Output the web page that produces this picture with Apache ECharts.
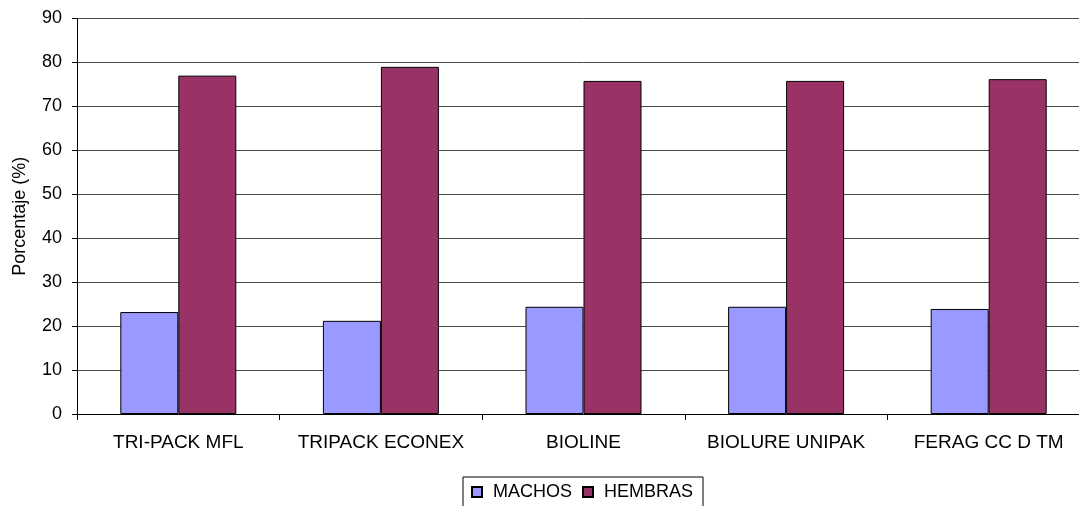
<!DOCTYPE html>
<html>
<head>
<meta charset="utf-8">
<script src="https://cdn.jsdelivr.net/npm/echarts@6/dist/echarts.min.js"></script>
<style>
html,body{margin:0;padding:0;background:#fff;overflow:hidden;width:1079px;height:506px;}
#chart{width:1092px;height:506px;}
</style>
</head>
<body>
<div id="chart"></div>
<script>
const categories = ['TRI-PACK MFL', 'TRIPACK ECONEX', 'BIOLINE', 'BIOLURE UNIPAK', 'FERAG CC D TM'];
const machos = [23.2, 21.2, 24.4, 24.4, 23.9];
const hembras = [77.0, 79.0, 75.8, 75.8, 76.2];
const seriesNames = ['MACHOS', 'HEMBRAS'];
const yAxisName = 'Porcentaje (%)';

const FONT = 'Liberation Sans, Arial, sans-serif';
const chart = echarts.init(document.getElementById('chart'), null, {renderer: 'canvas'});
chart.setOption({
  animation: false,
  backgroundColor: '#fff',
  grid: {left: 77, top: 18.5, width: 1013, height: 395.5},
  legend: {
    data: seriesNames,
    left: 463, top: 477,
    orient: 'horizontal',
    icon: 'rect',
    itemWidth: 10, itemHeight: 10,
    itemGap: 10,
    borderColor: '#000', borderWidth: 1,
    padding: [6, 10, 8, 8],
    textStyle: {fontFamily: FONT, fontSize: 18, color: '#000', padding: [0, 0, 0, 6]}
  },
  xAxis: {
    type: 'category',
    data: categories,
    axisLine: {lineStyle: {color: '#000', width: 1}},
    axisTick: {show: true, length: 6, lineStyle: {color: '#000'}},
    axisLabel: {fontFamily: FONT, fontSize: 19, color: '#000', margin: 19, interval: 0},
    splitLine: {show: false}
  },
  yAxis: {
    type: 'value',
    min: 0, max: 90, interval: 10,
    name: yAxisName,
    nameLocation: 'middle',
    nameGap: 48,
    nameTextStyle: {fontFamily: FONT, fontSize: 18, color: '#000'},
    axisLine: {show: true, lineStyle: {color: '#000', width: 1}},
    axisTick: {show: true, length: 5, lineStyle: {color: '#000'}},
    axisLabel: {fontFamily: FONT, fontSize: 18, color: '#000', margin: 15},
    splitLine: {show: true, lineStyle: {color: '#4a4a4a', width: 1}}
  },
  series: [
    {
      name: seriesNames[0], type: 'bar', data: machos,
      barWidth: 58, barGap: '0%',
      itemStyle: {color: '#9999FF', borderColor: '#000', borderWidth: 1}
    },
    {
      name: seriesNames[1], type: 'bar', data: hembras,
      barWidth: 58, barGap: '0%',
      itemStyle: {color: '#993366', borderColor: '#000', borderWidth: 1}
    }
  ]
});
</script>
</body>
</html>
